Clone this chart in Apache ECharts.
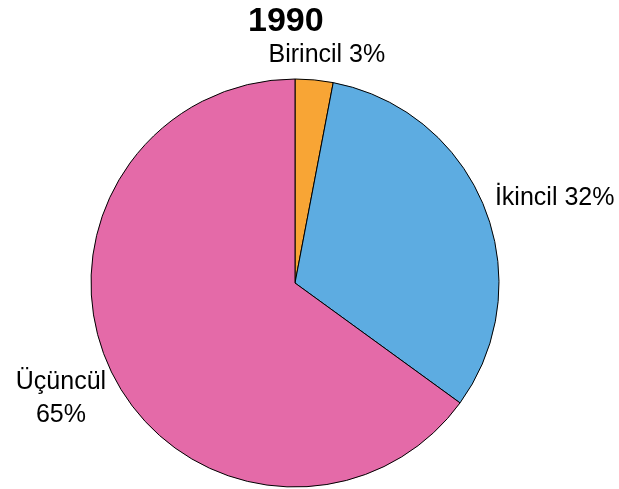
<!DOCTYPE html>
<html>
<head>
<meta charset="utf-8">
<script src="https://cdn.jsdelivr.net/npm/echarts@6/dist/echarts.min.js"></script>
<style>
html,body{margin:0;padding:0;background:#fff;}
#chart{width:619px;height:489px;}
</style>
</head>
<body>
<div id="chart"></div>
<script>
var title = '1990';
var categories = ['Birincil', 'İkincil', 'Üçüncül'];
var values = [3, 32, 65];
var colors = ['#F8A535', '#5DACE1', '#E46AA8'];

var font = '"Liberation Sans", Arial, sans-serif';
var labelOpts = [
  { offset: [-48, 0] },
  { offset: [-13, -1] },
  { offset: [16, 12] }
];

var chart = echarts.init(document.getElementById('chart'), null, {renderer: 'canvas'});
chart.setOption({
  animation: false,
  backgroundColor: '#fff',
  title: {
    text: title,
    left: 243,
    top: 0,
    textStyle: { fontFamily: font, fontSize: 34, fontWeight: 'bold', color: '#000' }
  },
  series: [{
    type: 'pie',
    center: [295, 283],
    radius: [0, 204],
    startAngle: 90,
    clockwise: true,
    avoidLabelOverlap: false,
    itemStyle: { borderColor: '#000', borderWidth: 1 },
    label: {
      show: true,
      position: 'outside',
      fontFamily: font,
      fontSize: 25,
      color: '#000',
      distanceToLabelLine: 0,
      formatter: function (p) {
        if (p.dataIndex === 2) {
          return '{c|' + p.name + '}\n{c|' + p.value + '%}';
        }
        return p.name + ' ' + p.value + '%';
      },
      rich: {
        c: { fontFamily: font, fontSize: 25, color: '#000', width: 92, align: 'center', lineHeight: 33 }
      }
    },
    labelLine: { show: false, length: 25, length2: 0 },
    emphasis: { disabled: true },
    data: categories.map(function (c, i) {
      return { name: c, value: values[i], itemStyle: { color: colors[i] }, label: labelOpts[i] };
    })
  }]
});
</script>
</body>
</html>
